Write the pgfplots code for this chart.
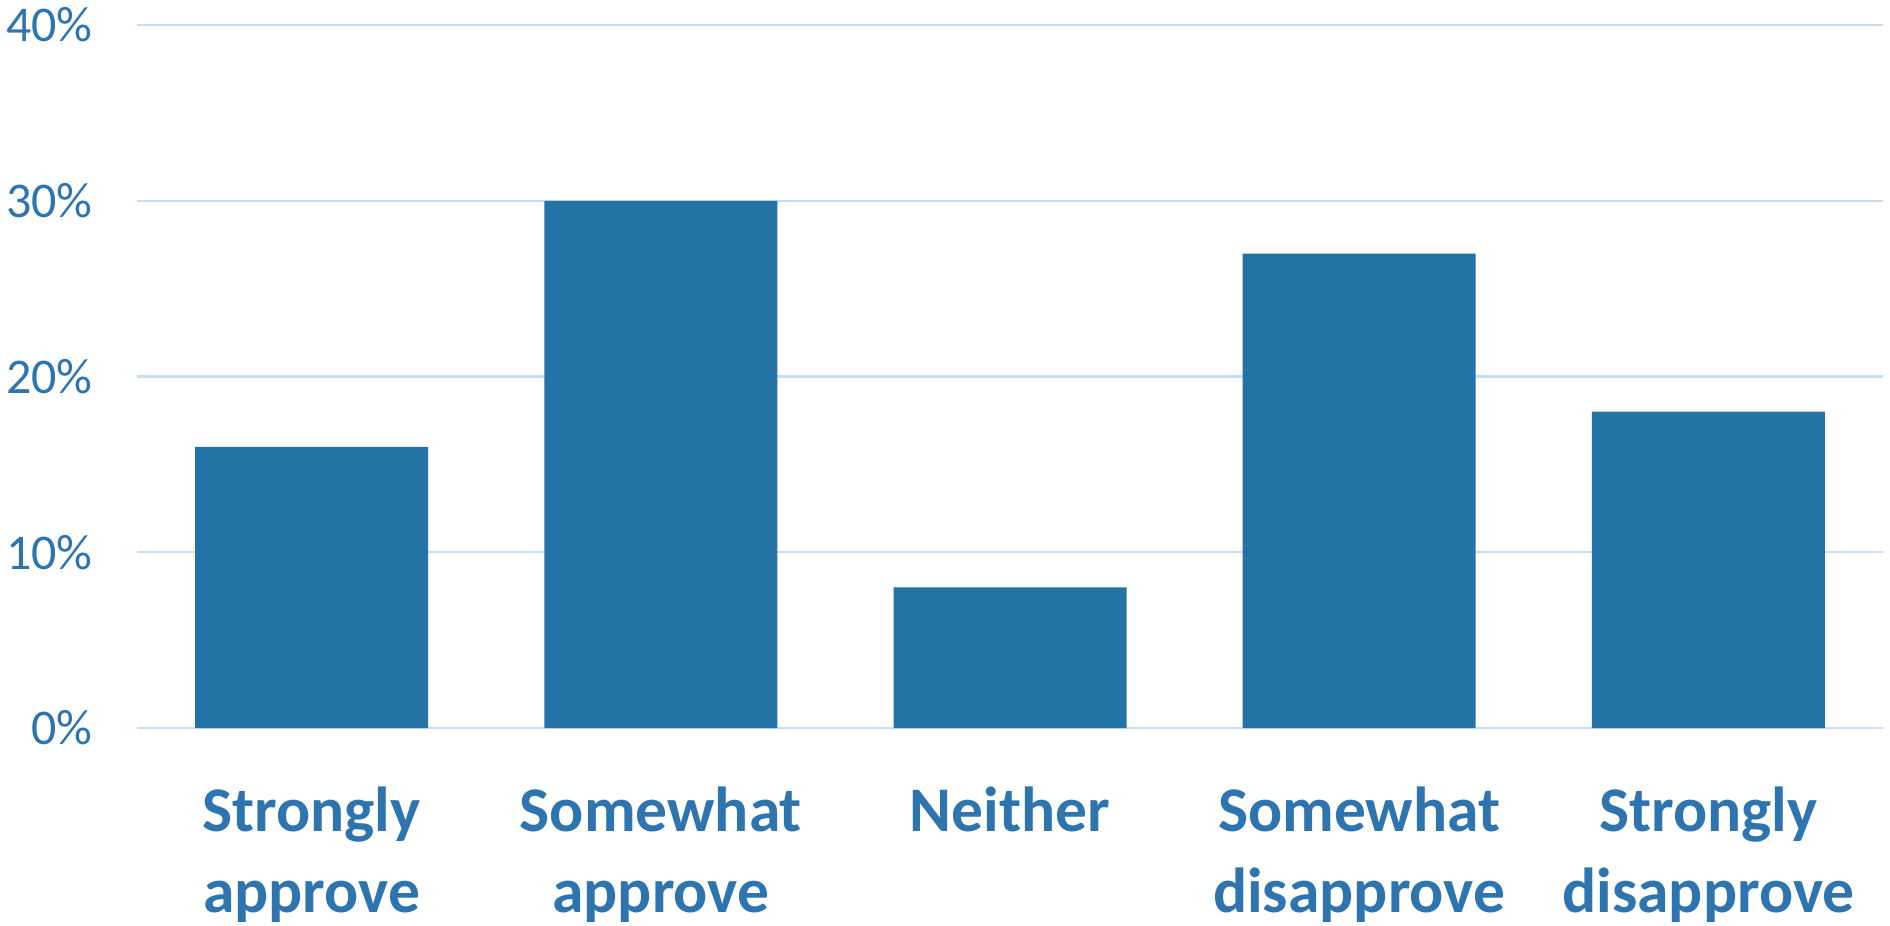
\documentclass[border=0pt]{standalone}
\usepackage{pgfplots}
\pgfplotsset{compat=1.18}
\usepackage{fontspec}
\setmainfont{Carlito}

\definecolor{barblue}{RGB}{35,115,166}
\definecolor{textblue}{RGB}{46,117,176}
\definecolor{gridblue}{RGB}{200,222,240}

\begin{document}
\begin{tikzpicture}
\path[use as bounding box] (-34.25pt,-49.25pt) rectangle (438.25pt,182pt);
\begin{axis}[
    at={(0,0)}, anchor=south west,
    scale only axis,
    width=436.5pt, height=175.75pt,
    ybar, bar width=58.25pt,
    xmin=-0.5, xmax=4.5,
    ymin=0, ymax=40,
    ytick={0,10,20,30,40},
    yticklabel={\pgfmathprintnumber{\tick}\%},
    xtick=data,
    xticklabels={{Strongly\\approve},{Somewhat\\approve},{Neither},{Somewhat\\disapprove},{Strongly\\disapprove}},
    axis line style={draw=none},
    major tick length=0pt,
    ymajorgrids=true,
    grid style={gridblue, line width=0.6pt},
    /pgf/number format/assume math mode=true,
    yticklabel style={font=\fontsize{12.5}{15}\selectfont, text=textblue, inner sep=0pt, xshift=-10.9pt},
    xticklabel style={font=\bfseries\fontsize{15.9}{20.2}\selectfont, text=textblue, align=center, inner sep=0pt, anchor=north, yshift=-14.6pt},
]
\addplot[fill=barblue, draw=none] coordinates {
    (0,16) (1,30) (2,8) (3,27) (4,18)
};
\end{axis}
\end{tikzpicture}
\end{document}
